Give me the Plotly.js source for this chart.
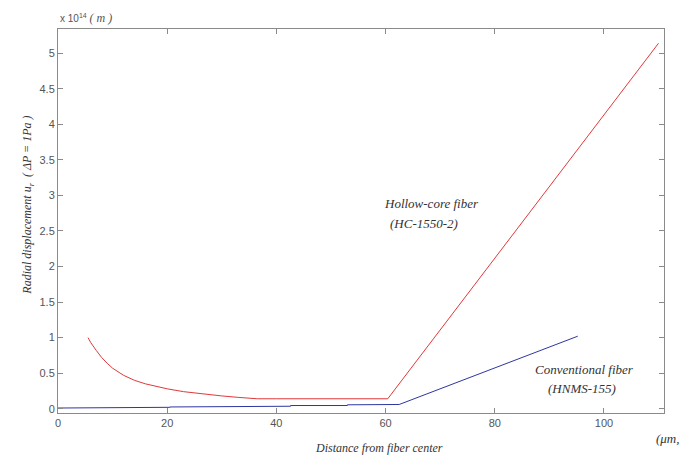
<!DOCTYPE html>
<html>
<head>
<meta charset="utf-8">
<script src="https://cdn.plot.ly/plotly-3.0.1.min.js"></script>
<style>html,body{margin:0;padding:0;background:#fff;}#chart{width:682px;height:456px;}</style>
</head>
<body>
<div id="chart"></div>
<script>
// Hollow-core fiber (HC-1550-2)
const hollowX = [5.5, 6, 7, 8, 9, 10, 12, 14, 16, 18, 20, 23, 26, 30, 33, 36.5, 40, 50, 60.4, 110];
const hollowY = [1.0, 0.93, 0.82, 0.72, 0.64, 0.57, 0.47, 0.40, 0.35, 0.31, 0.28, 0.24, 0.21, 0.18, 0.16, 0.14, 0.14, 0.14, 0.14, 5.14];
// Conventional fiber (HNMS-155)
const convX = [0, 10.8, 10.8, 20.5, 20.5, 32, 32, 42.6, 42.6, 53, 53, 62.5, 95.2];
const convY = [0.01, 0.01, 0.02, 0.02, 0.025, 0.025, 0.035, 0.035, 0.045, 0.045, 0.055, 0.06, 1.02];
const xTicks = [0, 20, 40, 60, 80, 100];
const yTicks = [0, 0.5, 1, 1.5, 2, 2.5, 3, 3.5, 4, 4.5, 5];
const yTickLabels = ["0", "0.5", "1", "1.5", "2", "2.5", "3", "3.5", "4", "4.5", "5"];

const serif = "Liberation Serif, Times New Roman, serif";
const sans = "Liberation Sans, Arial, sans-serif";

const traces = [
  {x: hollowX, y: hollowY, type: 'scatter', mode: 'lines', line: {color: '#e0393b', width: 1}, hoverinfo: 'skip'},
  {x: convX, y: convY, type: 'scatter', mode: 'lines', line: {color: '#2f35a0', width: 1}, hoverinfo: 'skip'}
];

const axisCommon = {
  showgrid: false, zeroline: false, showline: true, linecolor: '#8a8a8a', linewidth: 1,
  ticks: 'inside', ticklen: 5, tickcolor: '#8a8a8a', tickwidth: 1, mirror: 'allticks',
  tickfont: {family: sans, size: 11, color: '#555'}
};

const layout = {
  width: 682, height: 456,
  margin: {l: 58, r: 18, t: 29, b: 43},
  paper_bgcolor: '#fff', plot_bgcolor: '#fff',
  showlegend: false,
  xaxis: Object.assign({}, axisCommon, {range: [0, 111], tickvals: xTicks, ticktext: xTicks.map(String)}),
  yaxis: Object.assign({}, axisCommon, {range: [-0.06, 5.34], tickvals: yTicks, ticktext: yTickLabels}),
  annotations: [
    {xref: 'paper', yref: 'paper', x: 0, y: 1, xanchor: 'left', yanchor: 'bottom', yshift: 2, showarrow: false,
     text: 'x 10<sup>14</sup> <span style="font-family:Liberation Serif;font-style:italic;font-size:12px">( m )</span>',
     font: {family: sans, size: 10, color: '#555'}},
    {xref: 'x', yref: 'y', x: 68.5, y: 2.88, showarrow: false, text: '<i>Hollow-core fiber</i>',
     font: {family: serif, size: 13, color: '#333'}},
    {xref: 'x', yref: 'y', x: 67, y: 2.6, showarrow: false, text: '<i>(HC-1550-2)</i>',
     font: {family: serif, size: 13, color: '#333'}},
    {xref: 'x', yref: 'y', x: 96.5, y: 0.55, showarrow: false, text: '<i>Conventional fiber</i>',
     font: {family: serif, size: 13, color: '#333'}},
    {xref: 'x', yref: 'y', x: 96, y: 0.29, showarrow: false, text: '<i>(HNMS-155)</i>',
     font: {family: serif, size: 13, color: '#333'}},
    {xref: 'paper', yref: 'paper', x: 1.03, y: 0, xanchor: 'right', yanchor: 'middle', yshift: -25, showarrow: false,
     text: '<i>(μm,</i>', font: {family: serif, size: 13, color: '#333'}},
    {xref: 'paper', yref: 'paper', x: 0.53, y: 0, xanchor: 'center', yanchor: 'middle', yshift: -35, showarrow: false,
     text: '<i>Distance from fiber center</i>', font: {family: serif, size: 12, color: '#333'}},
    {xref: 'paper', yref: 'paper', x: 0, y: 0.54, xanchor: 'center', yanchor: 'middle', xshift: -30, showarrow: false, textangle: -90,
     text: '<i>Radial displacement u<sub>r</sub>  ( ΔP = 1Pa )</i>', font: {family: serif, size: 12, color: '#333'}}
  ]
};

Plotly.newPlot('chart', traces, layout, {staticPlot: true, displayModeBar: false});
</script>
</body>
</html>
